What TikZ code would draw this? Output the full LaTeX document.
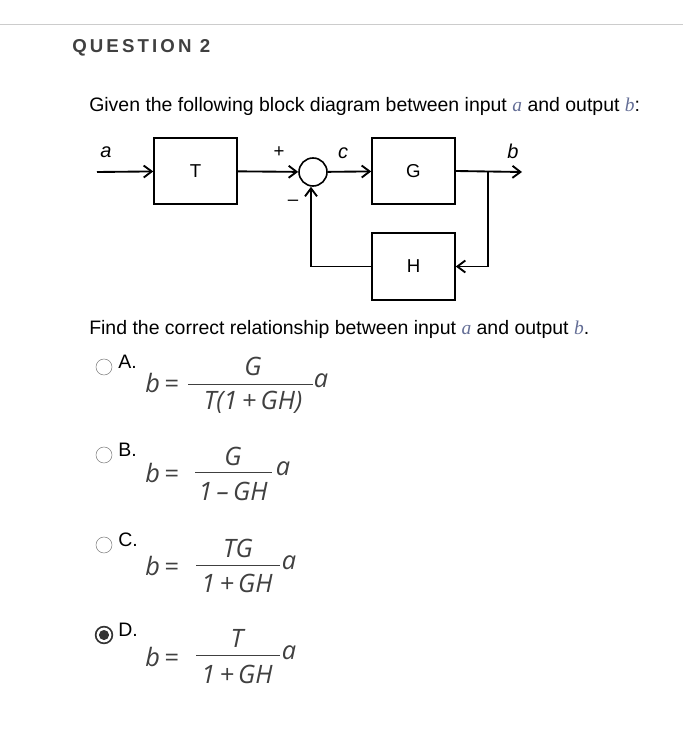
\documentclass[tikz,border=0pt]{standalone}
\usepackage{fontspec}
\setmainfont{Liberation Sans}
\newfontfamily\eqf{Open Sans}
\newfontfamily\serf{Liberation Serif}
\usetikzlibrary{arrows.meta}
\definecolor{vb}{RGB}{100,110,150}
\begin{document}
\begin{tikzpicture}[x=0.75pt,y=-0.75pt,
  blk/.style={draw,line width=1.4pt,minimum width=62pt,minimum height=50pt,font=\fontsize{14}{16}\selectfont},
  arr/.style={line width=1.4pt,-{Straight Barb[length=6pt,width=9pt,line width=1.4pt]}},
  txt/.style={anchor=base west,inner sep=0pt,font=\fontsize{14.6}{17}\selectfont},
  eq/.style={font=\eqf\itshape\fontsize{19}{21}\selectfont,text=black!75},
  radio/.style={circle,draw=gray,minimum size=12pt,inner sep=0pt}]
\useasboundingbox (0,0) rectangle (683,737);
\draw[gray!40] (0,24) -- (683,24);
\node[anchor=base west,inner sep=0pt,font=\bfseries\fontsize{14}{16}\selectfont,text=black!75] (q) at (72,53) {Q\,U\,E\,S\,T\,I\,O\,N\, 2};
\node[txt] (g) at (89,112) {Given the following block diagram between input {\serf\itshape\color{vb}a} and output {\serf\itshape\color{vb}b}:};
% diagram
\node[blk] (T) at (195.5,171) {T};
\node[circle,draw,line width=1.2pt,minimum size=21pt,inner sep=0pt] (S) at (313,172) {};
\node[blk] (G) at (413.5,171) {G};
\node[blk] (H) at (413.5,266.5) {H};
\coordinate (in) at (97,172);
\coordinate (out) at (522,172);
\coordinate (br) at (488,172);
\coordinate (brd) at (488,266.5);
\coordinate (fl) at (311,266.5);
\draw[arr] (in) -- (T);
\draw[arr] (T) -- (S);
\draw[arr] (S) -- (G);
\draw[arr] (G.east) -- (out);
\draw[arr] (br) -- (brd) -- (H);
\draw[arr] (H.west) -- (fl) -- (S.south -| fl);
\node[font=\itshape\fontsize{15}{17}\selectfont] (la) at (106,152) {a};
\node[font=\fontsize{14}{16}\selectfont] (lp) at (279,152) {+};
\node[font=\itshape\fontsize{15}{17}\selectfont] (lc) at (343,153) {c};
\node[font=\fontsize{14}{16}\selectfont] (lm) at (293,203) {--};
\node[font=\itshape\fontsize{15}{17}\selectfont] (lb) at (513,151) {b};
\node[txt] (f) at (89,334) {Find the correct relationship between input {\serf\itshape\color{vb}a} and output {\serf\itshape\color{vb}b}.};
% options
\foreach \y/\l in {367/A,455/B,545/C,635/D}{
  \node[radio] (r\l) at (104,\y) {};
  \node[txt,anchor=west] (o\l) at (118,\y-5) {\l.};
}
\fill[black!80] (rD) circle (3.8pt);
\draw[line width=1.2pt,black!80] (rD) circle (6.3pt);
% A
\node[eq] (bA) at (162,383) {b\,=};
\draw[black!75] (188,384) -- (313,384);
\node[eq] (nA) at (253,366) {G};
\node[eq] (dA) at (253,402) {T(1\,+\,GH)};
\node[eq] (aA) at (321,381) {a};
% B
\node[eq] (bB) at (162,473) {b\,=};
\draw[black!75] (195,472) -- (272,472);
\node[eq] (nB) at (233,456) {G};
\node[eq] (dB) at (233,491) {1\,–\,GH};
\node[eq] (aB) at (283,469) {a};
% C
\node[eq] (bC) at (162,566) {b\,=};
\draw[black!75] (196,565) -- (280,565);
\node[eq] (nC) at (238,548) {TG};
\node[eq] (dC) at (237,583) {1\,+\,GH};
\node[eq] (aC) at (289,563) {a};
% D
\node[eq] (bD) at (162,657) {b\,=};
\draw[black!75] (196,655) -- (280,655);
\node[eq] (nD) at (237,638) {T};
\node[eq] (dD) at (237,674) {1\,+\,GH};
\node[eq] (aD) at (289,653) {a};
\end{tikzpicture}
\end{document}
